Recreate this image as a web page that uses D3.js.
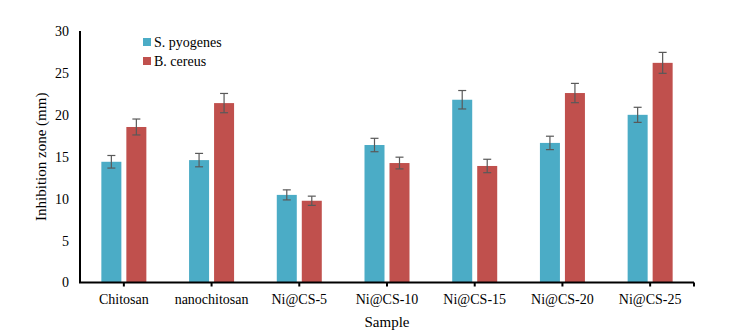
<!DOCTYPE html>
<html>
<head>
<meta charset="utf-8">
<script src="https://cdn.jsdelivr.net/npm/d3@7"></script>
<style>
  html, body { margin: 0; padding: 0; background: #fff; }
  svg, svg text { font-family: "Liberation Serif", "Times New Roman", serif !important; }
  svg { display: block; }
</style>
</head>
<body>
<svg id="chart" width="745" height="335"></svg>
<script>
// Inhibition zone diameters (mm) per sample, with standard deviation
const samples = ["Chitosan", "nanochitosan", "Ni@CS-5", "Ni@CS-10", "Ni@CS-15", "Ni@CS-20", "Ni@CS-25"];
const seriesNames = ["S. pyogenes", "B. cereus"];
const pyogenes = [14.4, 14.6, 10.45, 16.4, 21.8, 16.65, 20.0];
const pyogenesErr = [0.75, 0.8, 0.6, 0.8, 1.1, 0.8, 0.9];
const cereus = [18.55, 21.4, 9.75, 14.25, 13.9, 22.6, 26.2];
const cereusErr = [0.95, 1.15, 0.55, 0.7, 0.8, 1.15, 1.25];
const yTicks = [0, 5, 10, 15, 20, 25, 30];
const colors = ["#4BACC6", "#C0504D"];

const svg = d3.select("#chart");
const plotLeft = 80, plotRight = 694, plotTop = 31, plotBottom = 282.5;

const x = d3.scaleBand().domain(samples).range([plotLeft, plotRight]).padding(0);
const y = d3.scaleLinear().domain([0, 30]).range([plotBottom, plotTop]);

const barW = 20, gap = 5;
const rows = samples.map((s, i) => ({ s, vals: [
  { k: 0, v: pyogenes[i], e: pyogenesErr[i] },
  { k: 1, v: cereus[i], e: cereusErr[i] }
]}));

// Bars
const groups = svg.append("g").selectAll("g").data(rows).join("g")
  .attr("transform", d => `translate(${x(d.s) + x.bandwidth() / 2},0)`);

groups.selectAll("rect").data(d => d.vals).join("rect")
  .attr("x", d => d.k === 0 ? -(barW + gap / 2) : gap / 2)
  .attr("width", barW)
  .attr("y", d => y(d.v))
  .attr("height", d => y(0) - y(d.v))
  .attr("fill", d => colors[d.k]);

// Error bars
const eb = groups.selectAll("g.err").data(d => d.vals).join("g")
  .attr("class", "err")
  .attr("transform", d => `translate(${d.k === 0 ? -(barW / 2 + gap / 2) : barW / 2 + gap / 2},0)`)
  .attr("stroke", "#595959").attr("stroke-width", 1.2);
eb.append("line").attr("x1", 0).attr("x2", 0)
  .attr("y1", d => y(d.v + d.e)).attr("y2", d => y(d.v - d.e));
eb.append("line").attr("x1", -4).attr("x2", 4)
  .attr("y1", d => y(d.v + d.e)).attr("y2", d => y(d.v + d.e));
eb.append("line").attr("x1", -4).attr("x2", 4)
  .attr("y1", d => y(d.v - d.e)).attr("y2", d => y(d.v - d.e));

// Y axis
const yAxis = svg.append("g").attr("transform", `translate(${plotLeft},0)`)
  .call(d3.axisLeft(y).tickValues(yTicks).tickSize(0).tickPadding(11));
yAxis.select(".domain").attr("stroke", "#000").attr("stroke-width", 2)
  .attr("d", `M0,${plotTop}V${plotBottom}`);
yAxis.selectAll("text").attr("font-size", 14).attr("fill", "#000");

// X axis
const xAxis = svg.append("g").attr("transform", `translate(0,${plotBottom})`)
  .call(d3.axisBottom(x).tickSizeInner(4).tickSizeOuter(0).tickPadding(8));
xAxis.select(".domain").attr("stroke", "#000").attr("stroke-width", 2)
  .attr("d", `M${plotLeft - 1},0H${plotRight}`);
xAxis.selectAll(".tick line").attr("stroke", "#000").attr("stroke-width", 2);
xAxis.append("line").attr("x1", plotRight).attr("x2", plotRight).attr("y1", 0).attr("y2", 4)
  .attr("stroke", "#000").attr("stroke-width", 2);
xAxis.selectAll("text").attr("font-size", 14).attr("fill", "#000");

// Axis titles
svg.append("text").attr("x", 387).attr("y", 327).attr("text-anchor", "middle")
  .attr("font-size", 15).text("Sample");
svg.append("text").attr("transform", `translate(46,${(plotTop + plotBottom) / 2}) rotate(-90)`)
  .attr("text-anchor", "middle").attr("font-size", 15).text("Inhibition zone (mm)");

// Legend
const lg = svg.append("g").selectAll("g").data(seriesNames).join("g")
  .attr("transform", (d, i) => `translate(143,${38 + i * 19})`);
lg.append("rect").attr("width", 8).attr("height", 8).attr("fill", (d, i) => colors[i]);
lg.append("text").attr("x", 11).attr("y", 8.5).attr("font-size", 14).text(d => d);
</script>
</body>
</html>
